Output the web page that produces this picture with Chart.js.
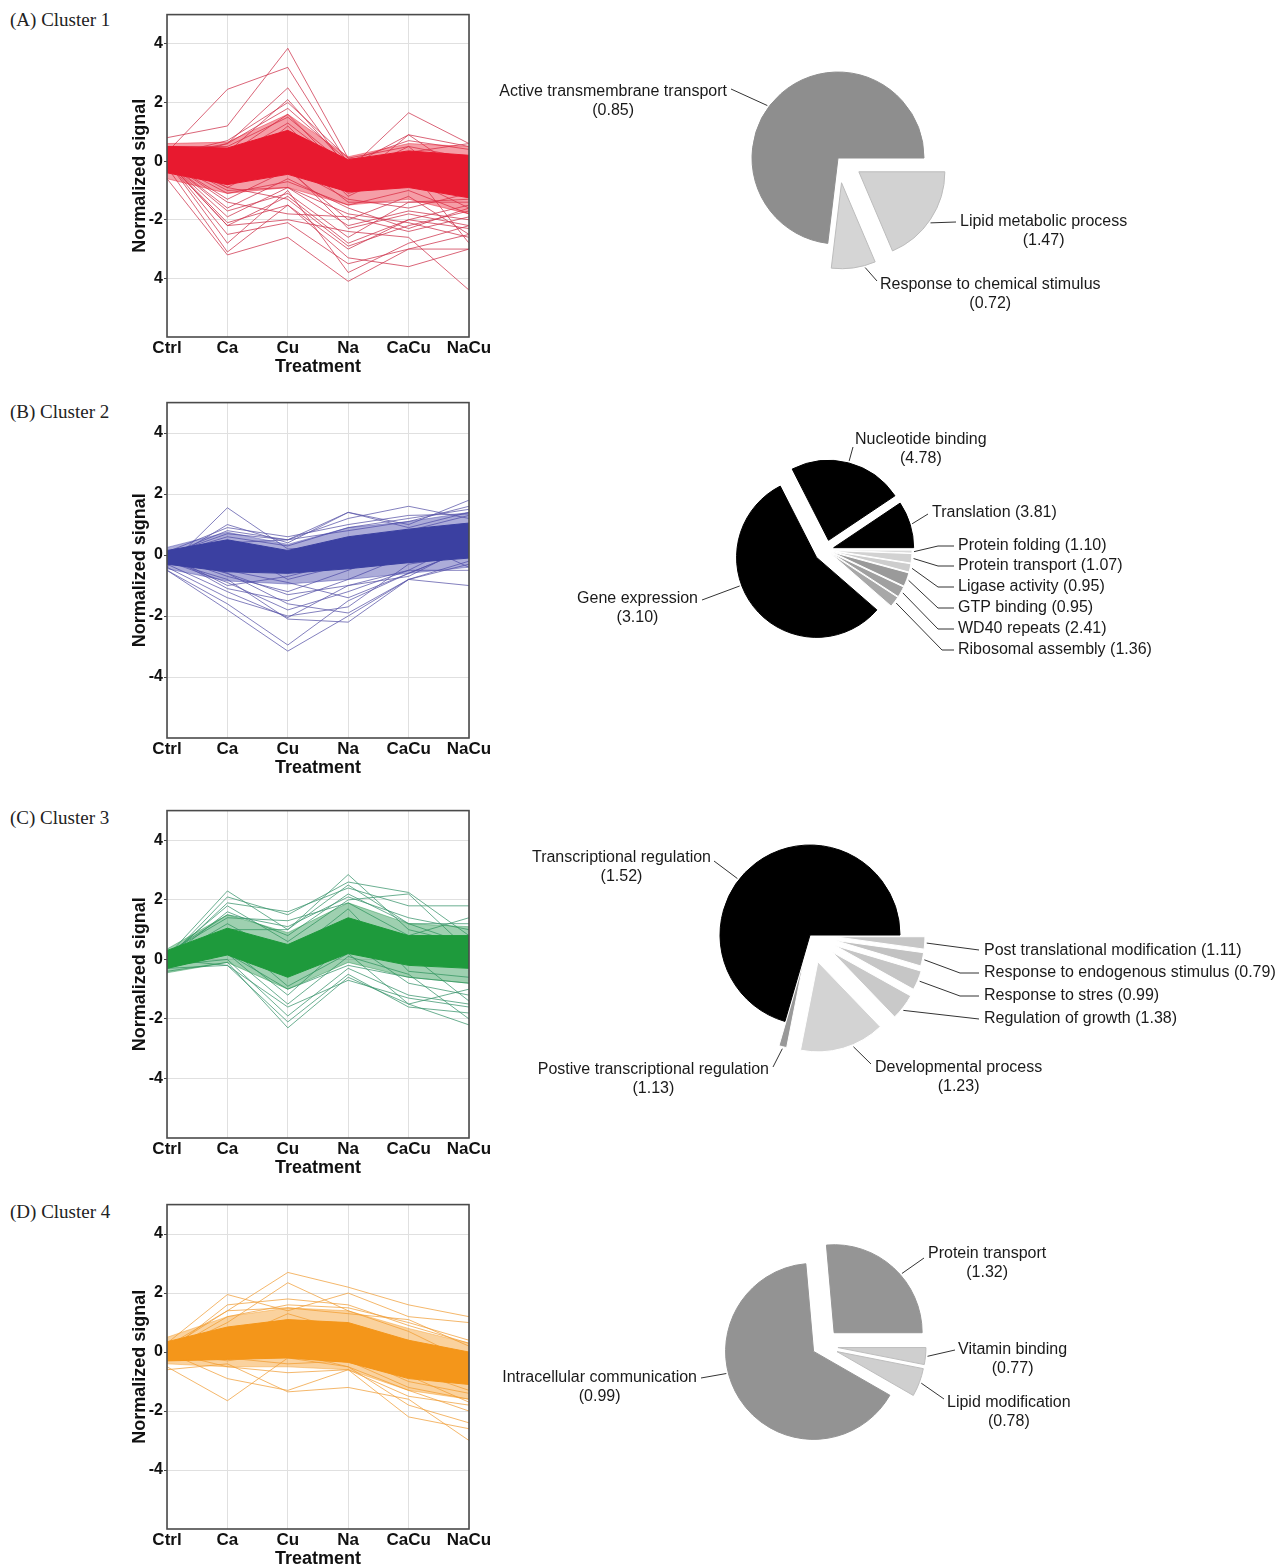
<!DOCTYPE html>
<html>
<head>
<meta charset="utf-8">
<title>Cluster profiles</title>
<script src="https://cdn.jsdelivr.net/npm/chart.js@4.4.1/dist/chart.umd.min.js"></script>
<style>
  body { margin: 0; background: #fff; }
  #page { position: relative; width: 1278px; height: 1565px; overflow: hidden; background: #fff; }
  canvas { position: absolute; }
  .tag { position: absolute; left: 10px; font-family: "Liberation Serif", "Times New Roman", serif; font-size: 19px; color: #222; line-height: 22px; }
</style>
</head>
<body>
<div id="page">
  <div class="tag" style="top:9px">(A) Cluster 1</div>
  <div class="tag" style="top:401px">(B) Cluster 2</div>
  <div class="tag" style="top:807px">(C) Cluster 3</div>
  <div class="tag" style="top:1201px">(D) Cluster 4</div>
  <canvas id="line1"></canvas><canvas id="pie1"></canvas>
  <canvas id="line2"></canvas><canvas id="pie2"></canvas>
  <canvas id="line3"></canvas><canvas id="pie3"></canvas>
  <canvas id="line4"></canvas><canvas id="pie4"></canvas>
</div>
<script>
// ---- data ----
const treatments = ['Ctrl', 'Ca', 'Cu', 'Na', 'CaCu', 'NaCu'];
const yTicks = [-4, -2, 0, 2, 4];

// cluster 1: dense core band, looser outer band, individual profiles
const c1Upper = [0.5, 0.45, 1.05, 0.05, 0.35, 0.2];
const c1Lower = [-0.4, -0.8, -0.45, -1.05, -0.9, -1.25];
const c1OuterUpper = [0.6, 0.65, 1.6, 0.15, 0.6, 0.5];
const c1OuterLower = [-0.6, -1.1, -0.9, -1.5, -1.3, -1.8];
const c1Lines = [
  [0.8, 1.2, 3.85, 0.1, 0.0, -0.3],
  [0.3, 2.45, 3.2, -0.1, 0.2, -0.5],
  [0.2, 0.6, 2.5, -0.3, 1.65, 0.6],
  [0.1, 0.3, 2.1, -0.2, 0.9, 0.5],
  [0.0, 0.6, 1.8, 0.0, 0.7, 0.4],
  [0.5, 0.5, 1.5, -0.2, 0.3, 0.6],
  [0.2, 0.7, 2.0, 0.1, 0.5, 0.1],
  [-0.6, -3.2, -2.6, -4.1, -3.0, -2.5],
  [-0.2, -3.1, -1.5, -3.3, -3.6, -3.0],
  [0.0, -2.8, -1.0, -3.8, -2.8, -2.2],
  [0.0, -2.2, -2.0, -2.4, -2.6, -4.4],
  [0.0, -2.2, -1.2, -2.8, -2.0, -2.3],
  [0.0, -1.9, -0.9, -2.2, -1.7, -2.0],
  [0.0, -1.6, -0.6, -1.6, -2.3, -1.6],
  [0.0, -1.3, -0.3, -2.0, -1.2, -2.5],
  [0.0, -1.1, -0.7, -1.5, -1.0, -1.8],
  [0.0, -2.1, -1.5, -3.0, -2.0, -1.5],
  [0.2, -0.9, 0.2, -1.4, -1.4, -1.4],
  [0.0, -1.4, -1.8, -1.9, -2.4, -1.9],
  [0.0, -0.5, 1.2, -0.8, 0.9, -0.5],
  [0.0, -0.3, 0.8, -1.2, -0.2, -2.8],
  [0.0, 0.2, 1.6, -0.5, 0.5, -1.2],
  [0.0, -2.5, -2.1, -3.5, -3.0, -3.0],
  [0.0, -1.7, -1.1, -2.6, -1.4, -1.3],
  [-0.3, -0.8, -0.2, -2.3, -1.8, -2.2],
  [0.1, -1.0, -0.9, -1.8, -2.1, -2.6],
  [0.0, -0.6, -0.2, -1.3, -1.6, -1.1],
  [0.1, -0.4, 0.4, -1.1, -0.6, -1.6],
  [0.0, -0.9, -1.3, -2.9, -2.2, -1.7],
  [0.3, 0.1, 1.3, -0.3, 0.2, -0.9]
];
const c1TickText = ['4', '-2', '0', '2', '4'];

const c2Upper = [0.15, 0.5, 0.15, 0.6, 0.85, 1.05];
const c2Lower = [-0.3, -0.55, -0.6, -0.45, -0.25, -0.1];
const c2OuterUpper = [0.25, 0.75, 0.35, 0.9, 1.1, 1.4];
const c2OuterLower = [-0.45, -0.85, -0.95, -0.8, -0.6, -0.4];
const c2Lines = [
  [-0.4, 1.55, 0.2, 0.3, 0.6, 1.0],
  [-0.2, 1.0, 0.4, 1.4, 0.9, 1.4],
  [0.0, 0.8, 0.5, 1.2, 1.6, 1.2],
  [0.0, 0.7, 0.5, 1.4, 1.0, 1.8],
  [0.0, 0.6, 0.3, 0.9, 1.2, 1.5],
  [0.1, 0.9, 0.6, 1.0, 1.3, 1.35],
  [-0.5, -1.8, -3.15, -2.0, -0.8, -0.3],
  [-0.5, -1.6, -2.95, -1.5, -0.6, 0.2],
  [-0.3, -1.2, -2.05, -1.0, -0.5, 0.5],
  [-0.2, -0.8, -2.1, -2.2, -0.8, -0.2],
  [-0.4, -1.4, -2.0, -1.7, -0.3, 0.0],
  [0.0, -0.6, -1.6, -1.9, -0.8, -1.0],
  [0.0, -1.1, -1.5, -0.8, 0.0, 0.6],
  [0.0, -0.7, -1.2, -0.5, 0.3, 0.8],
  [-0.2, -0.9, -1.8, -1.2, -0.5, -0.5],
  [0.0, -0.5, -0.9, -1.4, -0.6, 0.2],
  [0.0, 0.3, -0.8, -0.3, 0.8, 1.3],
  [0.0, -1.0, -0.7, -0.2, 0.5, -0.4],
  [-0.1, -0.6, -1.3, -1.0, -0.7, 0.3],
  [0.0, 0.4, 0.5, 0.8, 1.1, 1.6]
];

const c3Upper = [0.3, 1.05, 0.5, 1.4, 0.8, 0.8];
const c3Lower = [-0.3, 0.15, -0.6, 0.2, -0.2, -0.3];
const c3OuterUpper = [0.35, 1.5, 0.9, 1.9, 1.2, 1.1];
const c3OuterLower = [-0.45, -0.1, -1.0, -0.1, -0.6, -0.8];
const c3Lines = [
  [0.1, 2.3, 1.0, 2.85, 1.0, 0.5],
  [0.0, 2.1, 1.5, 2.6, 2.25, 0.8],
  [0.0, 1.9, 1.6, 2.4, 1.8, 1.8],
  [0.0, 1.6, 0.8, 2.2, 1.2, 0.5],
  [0.2, 1.4, 1.3, 1.9, 0.8, 1.4],
  [0.1, 1.8, 0.6, 2.0, 2.2, 0.3],
  [0.0, 1.0, 1.0, 2.5, 1.2, 1.2],
  [-0.4, -0.1, -2.3, -0.6, -1.5, -2.2],
  [-0.3, -0.2, -2.1, -0.5, -1.6, -1.8],
  [-0.2, 0.0, -1.9, -0.3, -1.2, -1.5],
  [0.0, 0.2, -1.5, 0.1, -0.5, -2.0],
  [0.0, 0.4, -1.2, 0.6, -0.8, -1.2],
  [0.0, 0.8, -0.9, 0.2, -1.5, -1.0],
  [0.0, 1.2, 0.1, 1.7, -0.4, -0.6],
  [0.0, 0.6, -0.5, 0.9, 0.2, -1.4],
  [-0.3, 0.2, -1.0, -0.2, -0.6, -0.8],
  [0.0, -0.2, -1.6, -0.7, -1.3, -1.6],
  [0.2, 1.5, 1.1, 2.1, 1.4, 1.0]
];

const c4Upper = [0.35, 0.85, 1.1, 1.0, 0.4, 0.0];
const c4Lower = [-0.3, -0.25, -0.2, -0.35, -0.9, -1.1];
const c4OuterUpper = [0.5, 1.2, 1.5, 1.4, 0.8, 0.3];
const c4OuterLower = [-0.4, -0.5, -0.5, -0.6, -1.3, -1.6];
const c4Lines = [
  [0.2, 1.4, 2.7, 2.2, 1.6, 1.2],
  [0.0, 1.0, 2.35, 1.4, 0.7, -0.3],
  [0.3, 1.95, 1.4, 2.0, 1.2, 1.0],
  [0.0, 1.6, 1.8, 1.6, 0.9, 0.3],
  [0.0, 1.2, 1.6, 1.5, 1.0, 0.4],
  [0.1, 1.4, 1.5, 1.3, 1.1, 0.2],
  [-0.5, -1.65, -0.2, -0.5, -1.8, -2.4],
  [-0.6, -0.4, -1.35, -1.2, -1.6, -3.0],
  [0.0, -0.9, -1.3, -0.6, -2.2, -2.6],
  [0.0, -0.5, -0.7, -0.6, -1.5, -1.8],
  [0.0, -0.2, -0.4, -0.3, -1.2, -1.6],
  [0.0, 0.2, 0.1, -0.1, -1.0, -1.4],
  [0.2, 0.6, 0.8, 0.4, -0.8, -1.7],
  [0.0, 0.4, 1.3, 0.7, 0.4, -0.9],
  [0.0, -0.3, 0.0, -0.5, -1.3, -2.0],
  [0.1, 0.3, 0.5, 0.2, -0.6, -1.3]
];
const stdTickText = ['-4', '-2', '0', '2', '4'];

// pie slices, clockwise from 3 o'clock
const c1Terms = ['Lipid metabolic process', 'Response to chemical stimulus', 'Active transmembrane transport'];
const c1Scores = [1.47, 0.72, 0.85];
const c1Share = [18.6, 8.3, 73.1];

const c2Terms = ['Protein folding', 'Protein transport', 'Ligase activity', 'GTP binding', 'WD40 repeats',
  'Ribosomal assembly', 'Gene expression', 'Nucleotide binding', 'Translation'];
const c2Scores = [1.10, 1.07, 0.95, 0.95, 2.41, 1.36, 3.10, 4.78, 3.81];
const c2Share = [0.6, 1.9, 1.7, 2.8, 2.2, 2.2, 56.1, 23.1, 9.4];

const c3Terms = ['Post translational modification', 'Response to endogenous stimulus', 'Response to stres',
  'Regulation of growth', 'Developmental process', 'Postive transcriptional regulation', 'Transcriptional regulation'];
const c3Scores = [1.11, 0.79, 0.99, 1.38, 1.23, 1.13, 1.52];
const c3Share = [2.2, 2.4, 3.5, 4.7, 15.3, 1.4, 70.5];

const c4Terms = ['Vitamin binding', 'Lipid modification', 'Intracellular communication', 'Protein transport'];
const c4Scores = [0.77, 0.78, 0.99, 1.32];
const c4Share = [3.1, 5.2, 65.3, 26.4];

// ---- drawing ----
const FONT = '"Liberation Sans", Arial, Helvetica, sans-serif';

const plotBox = {
  id: 'plotBox',
  afterDatasetsDraw(chart) {
    const {ctx, chartArea: a} = chart;
    ctx.save();
    ctx.strokeStyle = '#4a4a4a';
    ctx.lineWidth = 1.6;
    ctx.strokeRect(a.left, a.top, a.right - a.left, a.bottom - a.top);
    ctx.restore();
  }
};

function lineChart(id, top, bottom, upper, lower, outerUp, outerLow, lines, tickText, bandColor, softColor, lineColor) {
  const el = document.getElementById(id);
  el.width = 372;
  el.height = 10 + (bottom - top) + 42;
  el.style.left = '129px';
  el.style.top = (top - 10) + 'px';

  const flat = {pointRadius: 0, fill: false};
  const sets = [
    {...flat, data: lower, borderColor: bandColor, borderWidth: 1},
    {...flat, data: upper, borderColor: bandColor, backgroundColor: bandColor, borderWidth: 1, fill: '-1'},
    {...flat, data: outerLow, borderColor: softColor, borderWidth: 1},
    {...flat, data: outerUp, borderColor: softColor, backgroundColor: softColor, borderWidth: 1, fill: '-1'}
  ];
  lines.forEach(v => sets.push({...flat, data: v, borderColor: lineColor, borderWidth: 0.9}));

  const xFont = {family: FONT, size: 17, weight: 'bold'};
  const yFont = {family: FONT, size: 16, weight: 'bold'};
  const titleFont = {family: FONT, size: 18, weight: 'bold'};
  return new Chart(el, {
    type: 'line',
    data: {labels: treatments, datasets: sets},
    options: {
      responsive: false,
      animation: false,
      events: [],
      layout: {padding: {top: 10, right: 32, left: 0, bottom: 0}},
      plugins: {legend: {display: false}, tooltip: {enabled: false}},
      elements: {line: {tension: 0}},
      scales: {
        x: {
          offset: false,
          grid: {color: '#e0e0e0', drawTicks: false},
          border: {display: false},
          ticks: {color: '#111', font: xFont, padding: 1, maxRotation: 0, autoSkip: false},
          title: {display: true, text: 'Treatment', color: '#111', font: titleFont, padding: {top: 0, bottom: 1}},
          afterFit: s => { s.height = 42; }
        },
        y: {
          min: -6,
          max: 5,
          afterBuildTicks: s => { s.ticks = yTicks.map(v => ({value: v})); },
          grid: {color: '#e0e0e0', tickLength: 3, tickColor: '#444'},
          border: {display: false},
          ticks: {color: '#111', font: yFont, padding: 1, callback: (v, i) => tickText[i]},
          title: {display: true, text: 'Normalized signal', color: '#111', font: titleFont, padding: {top: 0, bottom: 0}},
          afterFit: s => { s.width = 38; }
        }
      }
    },
    plugins: [plotBox]
  });
}

lineChart('line1', 14, 337, c1Upper, c1Lower, c1OuterUpper, c1OuterLower, c1Lines, c1TickText,
  '#e8192f', 'rgba(232,40,60,0.45)', 'rgba(206,52,78,0.85)');
lineChart('line2', 402, 738, c2Upper, c2Lower, c2OuterUpper, c2OuterLower, c2Lines, stdTickText,
  '#3b40a1', 'rgba(70,72,170,0.45)', 'rgba(92,88,170,0.85)');
lineChart('line3', 810, 1138, c3Upper, c3Lower, c3OuterUpper, c3OuterLower, c3Lines, stdTickText,
  '#1e9a3c', 'rgba(40,150,80,0.45)', 'rgba(60,150,110,0.85)');
lineChart('line4', 1204, 1529, c4Upper, c4Lower, c4OuterUpper, c4OuterLower, c4Lines, stdTickText,
  '#f4961a', 'rgba(244,155,40,0.45)', 'rgba(240,160,60,0.85)');

// pull slices out of the pie by moving each arc's own centre along its bisector
function explode(shifts) {
  return {
    id: 'explode',
    afterDatasetUpdate(chart) {
      chart.getDatasetMeta(0).data.forEach((arc, i) => {
        const mid = (arc.startAngle + arc.endAngle) / 2;
        arc.x += Math.cos(mid) * shifts[i];
        arc.y += Math.sin(mid) * shifts[i];
      });
    }
  };
}

function pieChart(id, box, center, radius, terms, scores, share, shifts, colors, borders, layout) {
  const el = document.getElementById(id);
  el.width = box.w;
  el.height = box.h;
  el.style.left = box.x + 'px';
  el.style.top = box.y + 'px';
  const cx = center[0] - box.x, cy = center[1] - box.y;
  const pad = {left: 0, right: 0, top: 0, bottom: 0};
  if (cx < box.w / 2) pad.right = box.w - 2 * cx; else pad.left = 2 * cx - box.w;
  if (cy < box.h / 2) pad.bottom = box.h - 2 * cy; else pad.top = 2 * cy - box.h;

  const labels = {
    id: 'pieLabels',
    afterDraw(chart) {
      const ctx = chart.ctx;
      const meta = chart.getDatasetMeta(0);
      ctx.save();
      ctx.strokeStyle = '#333';
      ctx.lineWidth = 1;
      ctx.fillStyle = '#1a1a1a';
      ctx.font = '16px ' + FONT;
      ctx.textBaseline = 'middle';
      layout.forEach((lb, i) => {
        const arc = meta.data[i];
        const a = arc.startAngle + (lb.at ?? 0.5) * (arc.endAngle - arc.startAngle);
        const r = arc.outerRadius + 2;
        ctx.beginPath();
        ctx.moveTo(arc.x + Math.cos(a) * r, arc.y + Math.sin(a) * r);
        if (lb.elbow) ctx.lineTo(lb.elbow - box.x, lb.end[1] - box.y);
        ctx.lineTo(lb.end[0] - box.x, lb.end[1] - box.y);
        ctx.stroke();

        const score = '(' + scores[i].toFixed(2) + ')';
        const first = lb.two ? terms[i] : terms[i] + ' ' + score;
        const w = ctx.measureText(first).width;
        const tx = lb.x - box.x, ty = lb.y - box.y;
        const left = lb.align === 'right' ? tx - w : tx;
        ctx.textAlign = 'left';
        ctx.fillText(first, left, ty);
        if (lb.two) {
          ctx.textAlign = 'center';
          ctx.fillText(score, left + w / 2, ty + 19);
        }
      });
      ctx.restore();
    }
  };

  return new Chart(el, {
    type: 'pie',
    data: {
      labels: terms,
      datasets: [{data: share, backgroundColor: colors, borderColor: borders, borderWidth: 1}]
    },
    options: {
      responsive: false,
      animation: false,
      events: [],
      rotation: 90,
      radius: radius,
      layout: {padding: pad},
      plugins: {legend: {display: false}, tooltip: {enabled: false}}
    },
    plugins: [explode(shifts), labels]
  });
}

pieChart('pie1', {x: 470, y: 40, w: 808, h: 290}, [838, 158], 86,
  c1Terms, c1Scores, c1Share, [25, 25, 0],
  ['#d2d2d2', '#d5d5d5', '#8e8e8e'], ['#bcbcbc', '#bcbcbc', '#8e8e8e'],
  [
    {x: 960, y: 222, two: true, at: 0.53, end: [956, 222]},
    {x: 880, y: 285, two: true, at: 0.25, end: [877, 281]},
    {x: 727, y: 92, align: 'right', two: true, at: 0.455, end: [731, 89]}
  ]);

pieChart('pie2', {x: 470, y: 415, w: 808, h: 260}, [826, 550], 80,
  c2Terms, c2Scores, c2Share, [6, 6, 6, 6, 6, 6, 12, 10, 8],
  ['#dadada', '#d2d2d2', '#cdcdcd', '#9a9a9a', '#a0a0a0', '#a8a8a8', '#000000', '#000000', '#000000'],
  ['#ffffff', '#ffffff', '#ffffff', '#ffffff', '#ffffff', '#ffffff', '#000000', '#000000', '#000000'],
  [
    {x: 958, y: 546, elbow: 938, end: [954, 546]},
    {x: 958, y: 566, elbow: 938, end: [954, 566]},
    {x: 958, y: 587, elbow: 938, end: [954, 587]},
    {x: 958, y: 608, elbow: 938, end: [954, 608]},
    {x: 958, y: 629, elbow: 938, end: [954, 629]},
    {x: 958, y: 650, elbow: 942, end: [954, 650]},
    {x: 698, y: 599, align: 'right', two: true, at: 0.587, end: [702, 600]},
    {x: 855, y: 440, two: true, end: [853, 447]},
    {x: 932, y: 513, end: [928, 514]}
  ]);

pieChart('pie3', {x: 470, y: 835, w: 808, h: 270}, [810, 935], 90,
  c3Terms, c3Scores, c3Share, [25, 25, 27, 28, 28, 25, 0],
  ['#c6c6c6', '#c2c2c2', '#c6c6c6', '#c9c9c9', '#d3d3d3', '#999999', '#000000'],
  ['#ffffff', '#ffffff', '#ffffff', '#ffffff', '#ffffff', '#ffffff', '#000000'],
  [
    {x: 984, y: 951, end: [979, 950]},
    {x: 984, y: 973, elbow: 960, end: [979, 973]},
    {x: 984, y: 996, elbow: 960, end: [979, 996]},
    {x: 984, y: 1019, at: 0.6, end: [979, 1019]},
    {x: 875, y: 1068, two: true, at: 0.385, end: [871, 1064]},
    {x: 769, y: 1070, align: 'right', two: true, end: [773, 1067]},
    {x: 711, y: 858, align: 'right', two: true, at: 0.44, end: [714, 861]}
  ]);

pieChart('pie4', {x: 470, y: 1230, w: 808, h: 210}, [822, 1346], 88,
  c4Terms, c4Scores, c4Share, [16, 16, 10, 18],
  ['#cfcfcf', '#cfcfcf', '#939393', '#959595'],
  ['#bdbdbd', '#bdbdbd', '#939393', '#959595'],
  [
    {x: 958, y: 1350, two: true, end: [955, 1350]},
    {x: 947, y: 1403, two: true, end: [944, 1399]},
    {x: 697, y: 1378, align: 'right', two: true, at: 0.578, end: [701, 1378]},
    {x: 928, y: 1254, two: true, at: 0.567, end: [924, 1258]}
  ]);
</script>
</body>
</html>
